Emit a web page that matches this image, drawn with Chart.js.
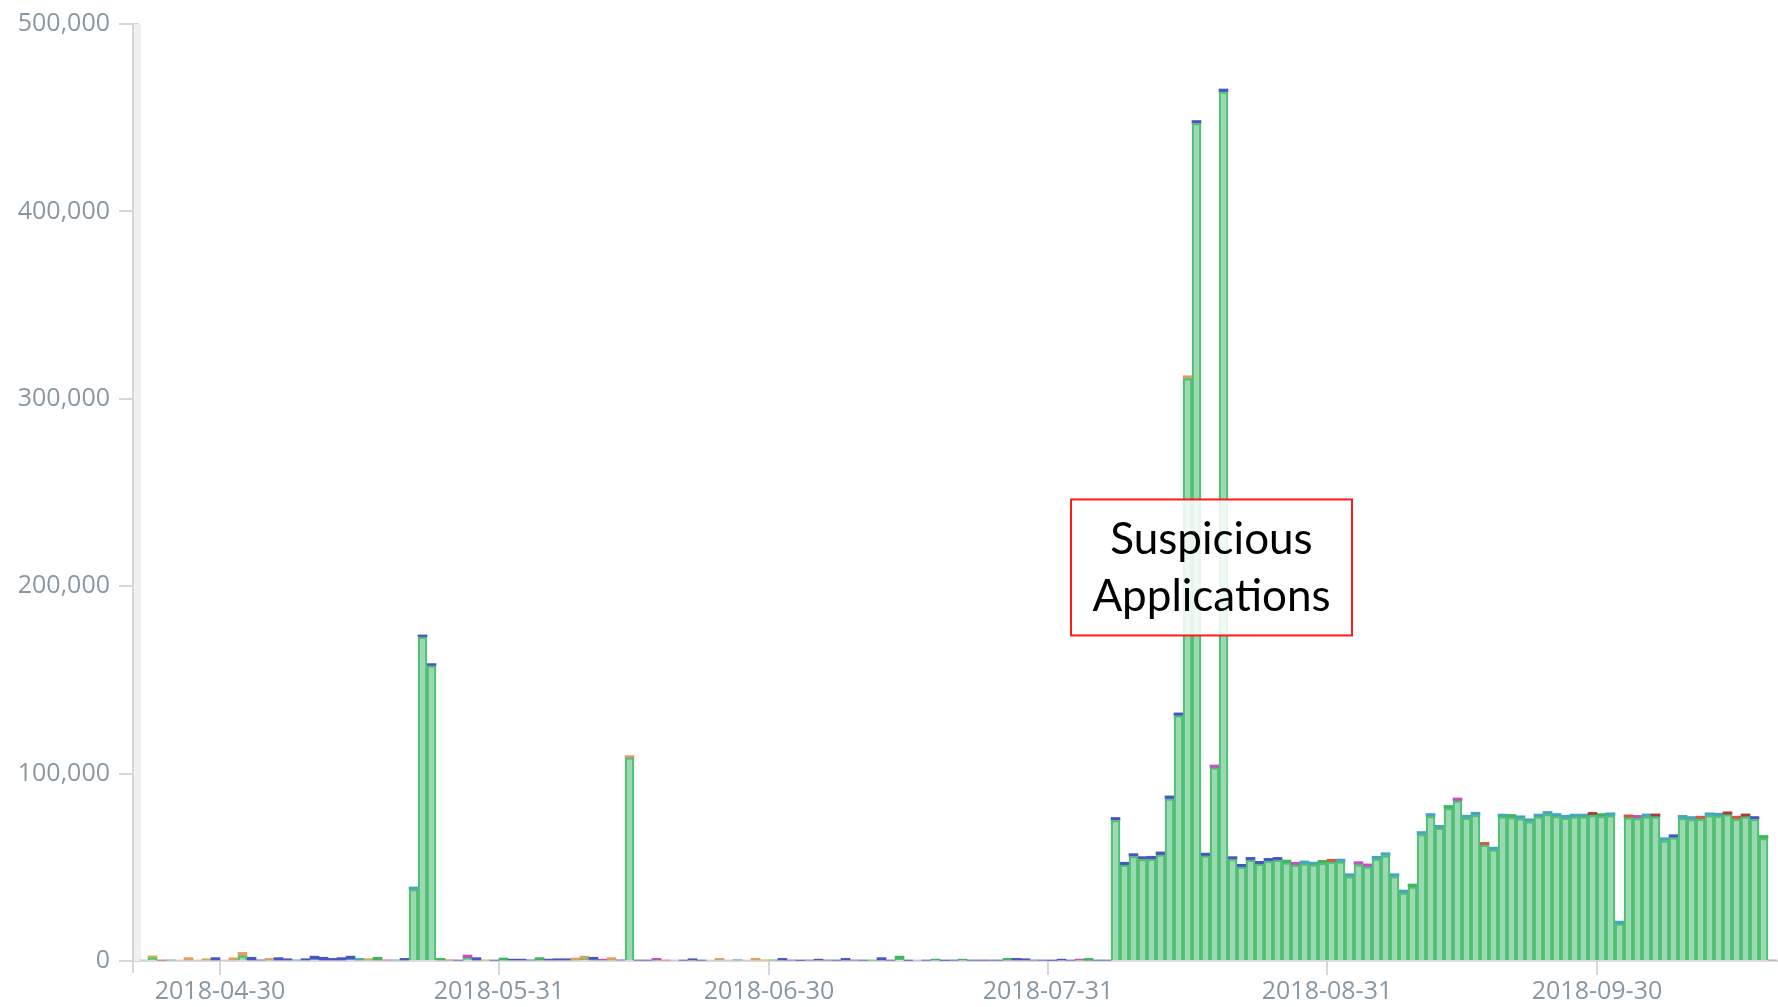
<!DOCTYPE html>
<html>
<head>
<meta charset="utf-8">
<title>Daily events</title>
<script src="https://cdn.jsdelivr.net/npm/chart.js@4/dist/chart.umd.min.js"></script>
<style>
  html, body { margin: 0; padding: 0; background: #fff; }
  canvas { display: block; }
</style>
</head>
<body>
<canvas id="events" width="1778" height="1007"></canvas>
<script>
// one bar per day, starting here
const firstDay = [2018, 3, 21];

// main (green) part of each daily bar
const greenCounts = [
  0, 1500, 0, 0, 0, 0, 0, 0, 0, 0,
  0, 2800, 0, 0, 0, 0, 0, 0, 0, 800,
  0, 0, 0, 800, 0, 0, 0, 0, 0, 0,
  38300, 172800, 157500, 0, 0, 0, 1600, 0, 0, 0,
  0, 0, 0, 0, 0, 0, 0, 0, 0, 1200,
  600, 0, 0, 0, 108400, 0, 0, 0, 0, 0,
  0, 0, 0, 0, 0, 0, 0, 0, 0, 0,
  0, 0, 0, 0, 0, 0, 0, 0, 0, 0,
  0, 0, 0, 0, 1000, 0, 0, 0, 0, 0,
  0, 0, 0, 0, 0, 0, 0, 0, 0, 0,
  0, 0, 0, 0, 0, 400, 0, 0, 75100, 51200,
  55800, 54200, 54400, 56700, 86600, 130900, 310800, 447000, 56100, 103100,
  463800, 54200, 50100, 53800, 51700, 53300, 53800, 52400, 51200, 51900,
  51300, 52200, 52800, 52900, 45100, 51500, 50300, 54400, 56300, 45100,
  36400, 39600, 67600, 77200, 70900, 81500, 85500, 76300, 77900, 61800,
  59300, 76900, 76700, 76000, 74400, 76900, 78300, 77200, 76300, 76900,
  76900, 77800, 77200, 77600, 19800, 76500, 76200, 77000, 77000, 64300,
  65900, 76200, 75600, 75800, 77600, 77400, 78100, 75800, 77000, 75600,
  65500, 0
];

// smaller terms stacked on top of the green part
const topCounts = [
  600, 1200, 400, 600, 500, 1800, 500, 1200, 1800, 500,
  1700, 1800, 2000, 600, 1400, 1800, 1200, 600, 1200, 1800,
  2000, 1400, 1800, 1800, 1400, 1200, 2000, 600, 600, 1400,
  1200, 1200, 1200, 1400, 600, 400, 1600, 1800, 600, 400,
  1600, 1000, 1000, 600, 1800, 1000, 1200, 1200, 1600, 1400,
  1400, 1000, 1800, 600, 1200, 400, 400, 1400, 500, 500,
  400, 1200, 400, 500, 1400, 500, 700, 500, 1400, 600,
  600, 1400, 500, 300, 500, 1000, 500, 400, 1400, 500,
  400, 500, 1800, 400, 1600, 300, 400, 400, 1000, 300,
  400, 1000, 400, 400, 400, 400, 1400, 1400, 1200, 500,
  400, 300, 1000, 400, 1000, 1000, 400, 400, 1500, 1500,
  1500, 1500, 1500, 1500, 1500, 1500, 1500, 1500, 1500, 1500,
  1500, 1500, 1500, 1500, 1500, 1500, 1500, 1500, 1500, 1500,
  1500, 1500, 1500, 1500, 1500, 1500, 1500, 1500, 1500, 1500,
  1500, 1500, 1500, 1500, 1500, 1500, 1500, 1500, 1500, 1500,
  1500, 1500, 1500, 1500, 1500, 1500, 1500, 1500, 1500, 1500,
  1500, 1500, 1500, 1500, 1500, 1500, 1500, 1500, 1500, 1500,
  1500, 1500, 1500, 1500, 1500, 1500, 1500, 1500, 1500, 1500,
  1500, 500
];

// which term sits on top, one letter per day
const topTerms = [...(
  'lyrtpopybp' + 'oobbobbtbb' + 'bbbbtygmtb' + 'tbbgrbmbob' + 'gbbbgbbboo' +
  'bmobobbmrp' + 'bbbpoptpoo' + 'gbbbbbbbbb' + 'bgbbgbpbgb' + 'bgbbbbgbbb' +
  'bbbbmgbb' + 'bbbbbbbbobbm' + 'bbbbbbbgmt' + 'tgrttmmttt' + 'tgtttgmttr' +
  'ttgttttttt' + 'tdgttrmtdt' + 'bttrttdrdb' + 'gm'
)];

const termColors = {
  b: '#4a54c6', t: '#45a6c2', o: '#dea062', m: '#c052c0', r: '#d25a42',
  d: '#a83c3c', g: '#3fb65c', y: '#c6b23e', p: '#e7a7d6', l: '#8fd0dc'
};

const tickDates = ['2018-04-30', '2018-05-31', '2018-06-30', '2018-07-31', '2018-08-31', '2018-09-30'];

const yTicks = [0, 100000, 200000, 300000, 400000, 500000];

const noteLines = ['Suspicious', 'Applications'];
const noteAt = { day: 119, value: 210000 };

const days = greenCounts.map((_, i) =>
  new Date(Date.UTC(firstDay[0], firstDay[1], firstDay[2] + i)).toISOString().slice(0, 10));

const tickGray = '#d6d6d6';
const labelGray = '#8797a3';

// light band and line along the value axis
const axisFrame = {
  id: 'axisFrame',
  beforeDatasetsDraw(chart) {
    const { ctx, chartArea: a } = chart;
    ctx.save();
    ctx.fillStyle = '#f1f1f1';
    ctx.fillRect(a.left - 5, a.top, 7, a.bottom - a.top);
    ctx.fillStyle = tickGray;
    ctx.fillRect(a.left - 7, a.top - 1, 2, a.bottom - a.top + 13);
    ctx.restore();
  }
};

// boxed callout over the August spikes
const callout = {
  id: 'callout',
  afterDatasetsDraw(chart) {
    const { ctx, scales } = chart;
    const cx = scales.x.getPixelForValue(noteAt.day) - 3;
    const cy = scales.y.getPixelForValue(noteAt.value);
    const w = 281, h = 136;
    ctx.save();
    ctx.fillStyle = 'rgba(255,255,255,0.86)';
    ctx.fillRect(cx - w / 2, cy - h / 2, w, h);
    ctx.strokeStyle = '#ff1a1a';
    ctx.lineWidth = 2;
    ctx.strokeRect(cx - w / 2, cy - h / 2, w, h);
    ctx.fillStyle = '#000';
    ctx.font = '44px Lato';
    ctx.textAlign = 'center';
    ctx.textBaseline = 'alphabetic';
    ctx.fillText(noteLines[0], cx, cy - 13);
    ctx.fillText(noteLines[1], cx, cy + 44);
    ctx.restore();
  }
};

Chart.defaults.font.family = "'Open Sans', sans-serif";
Chart.defaults.font.size = 25;
Chart.defaults.color = labelGray;

new Chart(document.getElementById('events'), {
  type: 'bar',
  data: {
    labels: days,
    datasets: [
      {
        label: 'main',
        data: greenCounts,
        stack: 'day',
        backgroundColor: 'rgba(87,193,123,0.6)',
        borderColor: '#52be76',
        borderWidth: 1.6,
        barPercentage: 1,
        categoryPercentage: 1
      },
      {
        label: 'other',
        data: topCounts,
        stack: 'day',
        backgroundColor: topTerms.map(t => termColors[t]),
        borderWidth: 0,
        barPercentage: 1,
        categoryPercentage: 1
      }
    ]
  },
  options: {
    responsive: false,
    devicePixelRatio: 1,
    animation: false,
    layout: { padding: { top: 21, right: 1, left: 0, bottom: 0 } },
    plugins: { legend: { display: false }, tooltip: { enabled: false } },
    scales: {
      x: {
        stacked: true,
        afterFit(scale) { scale.height = 46; },
        border: { display: true, color: '#dcdcdc', width: 2 },
        grid: {
          offset: true,
          drawOnChartArea: false,
          drawTicks: true,
          tickLength: 14,
          lineWidth: 2,
          color: ctx => tickDates.includes(days[ctx.index]) ? tickGray : 'rgba(0,0,0,0)'
        },
        ticks: {
          autoSkip: false,
          maxRotation: 0,
          minRotation: 0,
          padding: 2,
          labelOffset: -4.5,
          color: labelGray,
          callback(value) {
            const d = this.getLabelForValue(value);
            return tickDates.includes(d) ? d : '';
          }
        }
      },
      y: {
        stacked: true,
        min: 0,
        max: 500000,
        afterFit(scale) { scale.width = 139; },
        afterBuildTicks(scale) { scale.ticks = yTicks.map(v => ({ value: v })); },
        border: { display: false },
        grid: {
          drawOnChartArea: false,
          drawTicks: true,
          tickLength: 20,
          lineWidth: 2,
          color: tickGray
        },
        ticks: {
          padding: 9,
          color: labelGray,
          callback: v => v.toLocaleString('en-US')
        }
      }
    }
  },
  plugins: [axisFrame, callout]
});
</script>
</body>
</html>
